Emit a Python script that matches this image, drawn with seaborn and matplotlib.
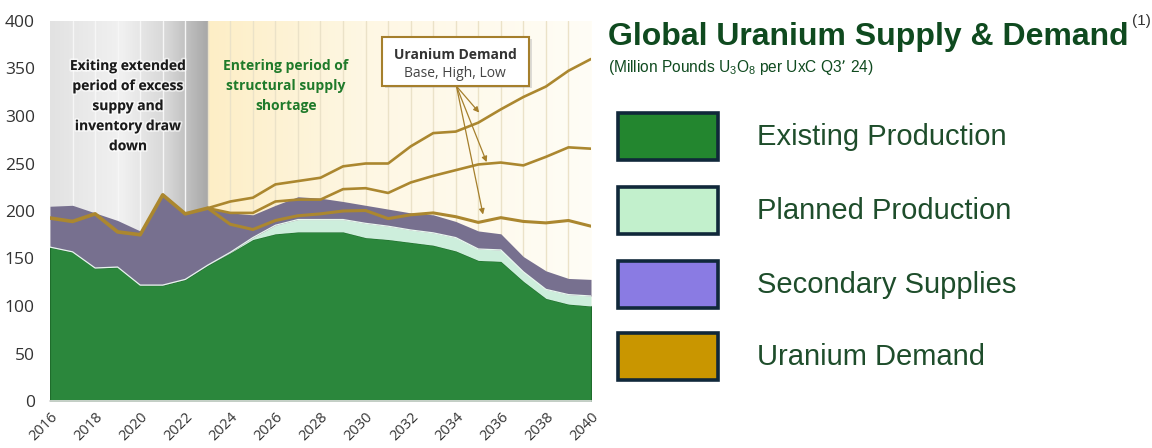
"""
Global uranium supply & demand chart (UxC Q3'24 style).
"""
import matplotlib
matplotlib.use("Agg")
import matplotlib.patheffects as pe
import matplotlib.pyplot as plt
import numpy as np
import pandas as pd
import seaborn as sns
from matplotlib.colors import LinearSegmentedColormap
from matplotlib.patches import Rectangle

# ---- data (million lbs U3O8) ----
years = list(range(2016, 2041))
existing = [162, 157, 140, 141, 122, 122, 128, 143, 156, 170, 176, 178, 178,
            178, 172, 170, 167, 164, 158, 148, 147, 126, 108, 102, 100]
planned = [0, 0, 0, 0, 0, 0, 0, 0, 0.5, 2, 9, 13, 13,
           13, 15, 14, 13, 13, 14, 12, 12, 10, 9.5, 10, 10.5]
secondary = [43, 49, 58, 49, 57, 97, 70, 60, 41.5, 24, 21, 24, 22.5,
             19, 19, 18, 18, 19, 17, 19, 17, 16, 19.5, 17, 17.5]

hist_years = list(range(2016, 2024))
demand_hist = [192.6, 189, 197, 178, 175, 217, 197, 203]
proj_years = list(range(2023, 2041))
demand_high = [203, 210, 214, 228, 231.5, 235, 247, 250, 250, 268, 282,
               283.6, 293, 307, 320, 331, 347.6, 360]
demand_base = [203, 198, 198, 210, 212, 212, 223, 224, 219, 230, 237,
               243, 249, 251, 248, 257, 267, 265.6]
demand_low = [203, 186, 180.5, 190, 195, 197, 200, 200.5, 192, 196, 198,
              194, 188, 193, 189, 187.5, 190, 184]

legend_labels = ["Existing Production", "Planned Production",
                 "Secondary Supplies", "Uranium Demand"]
legend_colors = ["#23862f", "#c2f0cc", "#8a7be3", "#c99600"]

x_ticks = list(range(2016, 2041, 2))
y_ticks = list(range(0, 401, 50))

C_EXIST = "#2b873c"
C_PLAN = "#cdeedc"
C_SEC = "#77708f"
C_DEM = "#ab872f"
C_TITLE = "#0f4a1f"
C_LEG_TXT = "#1e4d2b"

supply = pd.DataFrame({"year": years, "existing": existing,
                       "planned": planned, "secondary": secondary})
supply["top_plan"] = supply["existing"] + supply["planned"]
supply["top_sec"] = supply["top_plan"] + supply["secondary"]

demand = pd.concat([
    pd.DataFrame({"year": hist_years, "demand": demand_hist, "scenario": "History"}),
    pd.DataFrame({"year": proj_years, "demand": demand_high, "scenario": "High"}),
    pd.DataFrame({"year": proj_years, "demand": demand_base, "scenario": "Base"}),
    pd.DataFrame({"year": proj_years, "demand": demand_low, "scenario": "Low"}),
])

sns.set_theme(style="white")
plt.rcParams["font.family"] = ["Open Sans", "DejaVu Sans"]

fig = plt.figure(figsize=(11.52, 4.48), dpi=100)
ax = fig.add_axes([50 / 1152, 47 / 448, 541 / 1152, 380 / 448])
ax.set_xlim(2016, 2040)
ax.set_ylim(0, 400)

# background gradients
gray_cmap = LinearSegmentedColormap.from_list(
    "g", [(0, "#e2e2e2"), (0.45, "#f1f1f1"), (0.75, "#d6d6d6"), (1, "#a8a8a8")])
cream_cmap = LinearSegmentedColormap.from_list(
    "c", [(0, "#fdeec6"), (0.4, "#fef7e3"), (1, "#fffdf6")])
grad = np.linspace(0, 1, 256).reshape(1, -1)
ax.imshow(grad, cmap=gray_cmap, extent=[2016, 2023, 0, 400], aspect="auto", zorder=0)
ax.imshow(grad, cmap=cream_cmap, extent=[2023, 2040, 0, 400], aspect="auto", zorder=0)
for yr in range(2017, 2040):
    col = "#f6f6f6" if yr < 2023 else "#ebe2c8"
    ax.plot([yr, yr], [0, 400], color=col, lw=1.0, zorder=0.5)

# stacked supply areas
ax.fill_between(supply["year"], 0, supply["existing"], color=C_EXIST,
                edgecolor="#1f6d2c", lw=0.8, zorder=2)
ax.fill_between(supply["year"], supply["existing"], supply["top_plan"],
                color=C_PLAN, lw=0, zorder=2)
ax.plot(supply["year"], supply["top_plan"], color="#e8f7ee", lw=0.9, zorder=2.1)
ax.fill_between(supply["year"], supply["top_plan"], supply["top_sec"],
                color=C_SEC, lw=0, zorder=2)

# demand lines
widths = {"History": 2.6, "High": 1.9, "Base": 1.9, "Low": 2.2}
for name, grp in demand.groupby("scenario", sort=False):
    sns.lineplot(data=grp, x="year", y="demand", color=C_DEM,
                 lw=widths[name], ax=ax, zorder=3, legend=False)

# annotations inside the chart
glow = [pe.withStroke(linewidth=2.5, foreground=(1, 1, 1, 0.6))]
ax.text(2019.46, 360, "Exiting extended\nperiod of excess\nsuppy and\ninventory draw\ndown",
        ha="center", va="top", fontsize=10, fontweight="bold", color="#1a1a1a",
        linespacing=1.55, zorder=5, path_effects=glow)
ax.text(2026.47, 360, "Entering period of\nstructural supply\nshortage",
        ha="center", va="top", fontsize=10, fontweight="bold", color="#1f7a2a",
        linespacing=1.55, zorder=5)

ax.add_patch(Rectangle((2030.85, 329.5), 6.55, 51.6, facecolor="#bdbdbd",
                       edgecolor="none", alpha=0.5, zorder=5))
ax.add_patch(Rectangle((2030.72, 331.4), 6.52, 51.6, facecolor="white",
                       edgecolor="#a57f2c", lw=1.5, zorder=6))
ax.text(2033.98, 364, "Uranium Demand", ha="center", va="center", fontsize=10,
        fontweight="bold", color="#333333", zorder=7)
ax.text(2033.98, 345, "Base, High, Low", ha="center", va="center", fontsize=10,
        color="#444444", zorder=7)
for tx, ty in [(2035.04, 303.6), (2035.37, 251.5), (2035.21, 196.3)]:
    ax.annotate("", xy=(tx, ty), xytext=(2034.03, 331.4), zorder=7,
                arrowprops=dict(arrowstyle="-|>", color="#a57f2c", lw=0.9,
                                mutation_scale=8, shrinkA=0, shrinkB=0))

# axes styling
ax.set_xticks(x_ticks)
ax.set_yticks(y_ticks)
ax.set_xticklabels([str(t) for t in x_ticks], rotation=45, ha="right",
                   rotation_mode="anchor", fontsize=10.5, color="#333333")
ax.set_yticklabels([str(t) for t in y_ticks], fontsize=12.5, color="#333333")
ax.tick_params(axis="x", length=0, pad=6)
ax.tick_params(axis="y", length=0, pad=11)
ax.set_xlabel("")
ax.set_ylabel("")
for side in ["top", "right", "left"]:
    ax.spines[side].set_visible(False)
ax.spines["bottom"].set_color("#dddddd")
ax.grid(False)

# title block
fig.text(608 / 1152, 1 - 45 / 448, "Global Uranium Supply & Demand",
         family="Liberation Sans", fontweight="bold", fontsize=23,
         color=C_TITLE, ha="left", va="baseline")
fig.text(1132 / 1152, 1 - 25 / 448, "(1)", family="Liberation Sans",
         fontsize=11, color="#333333", ha="left", va="baseline")
fig.text(608 / 1152, 1 - 72 / 448,
         r"(Million Pounds U$_\mathregular{3}$O$_\mathregular{8}$ per UxC Q3’ 24)",
         family="Liberation Sans", fontsize=11.2, color=C_TITLE,
         ha="left", va="baseline")

# legend drawn as boxes + labels
box_tops = [113, 187, 261, 333]
for top, label, col in zip(box_tops, legend_labels, legend_colors):
    fig.add_artist(Rectangle((618 / 1152, 1 - (top + 47) / 448), 100 / 1152, 47 / 448,
                             transform=fig.transFigure, facecolor=col,
                             edgecolor="#10283a", lw=2.6))
    fig.text(757 / 1152, 1 - (top + 24) / 448, label, family="Liberation Sans",
             fontsize=21, color=C_LEG_TXT, ha="left", va="center")

fig.savefig("out.png", dpi=100)
